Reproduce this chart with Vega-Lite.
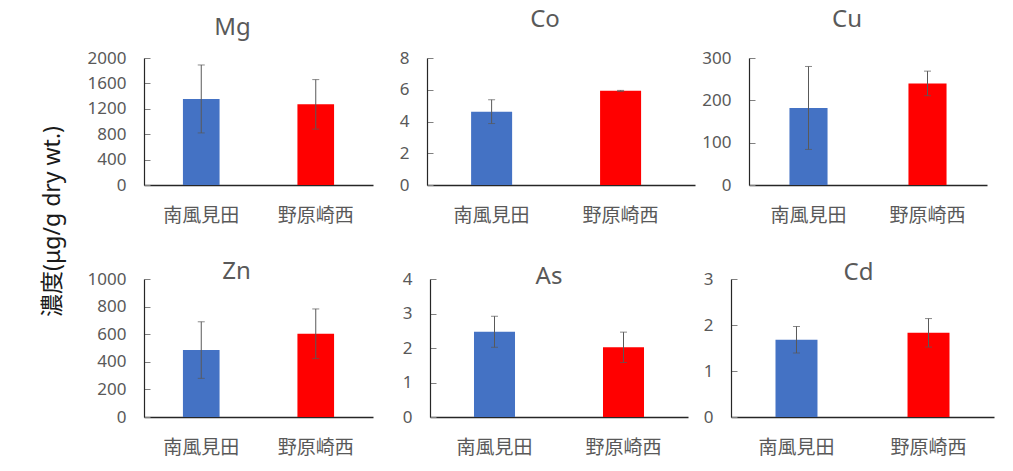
{
  "$schema": "https://vega.github.io/schema/vega-lite/v6.json",
  "autosize": {"type": "pad"},
  "padding": {"left": 42, "top": 8, "right": 5, "bottom": 12},
  "background": "white",
  "title": {"text": "濃度(μg/g dry wt.)", "orient": "left", "anchor": "middle", "frame": "bounds", "offset": -1, "baseline": "bottom", "dx": 11, "dy": 0, "fontSize": 23, "fontWeight": "normal", "color": "#1a1a1a", "font": "Noto Sans, Noto Sans CJK JP"},
  "datasets": {
    "d": [
      {"element": "Mg", "site": "南風見田", "mean": 1355, "err": 535},
      {"element": "Mg", "site": "野原崎西", "mean": 1270, "err": 390},
      {"element": "Co", "site": "南風見田", "mean": 4.62, "err": 0.75},
      {"element": "Co", "site": "野原崎西", "mean": 5.93, "err": 0.03},
      {"element": "Cu", "site": "南風見田", "mean": 182, "err": 98},
      {"element": "Cu", "site": "野原崎西", "mean": 240, "err": 29},
      {"element": "Zn", "site": "南風見田", "mean": 485, "err": 205},
      {"element": "Zn", "site": "野原崎西", "mean": 603, "err": 180},
      {"element": "As", "site": "南風見田", "mean": 2.47, "err": 0.45},
      {"element": "As", "site": "野原崎西", "mean": 2.02, "err": 0.44},
      {"element": "Cd", "site": "南風見田", "mean": 1.68, "err": 0.29},
      {"element": "Cd", "site": "野原崎西", "mean": 1.83, "err": 0.31}
    ]
  },
  "spacing": 35,
  "bounds": "full",
  "vconcat": [
    {
      "spacing": 54,
      "bounds": "flush",
      "hconcat": [
        {
          "width": 229, "height": 127,
          "data": {"name": "d"},
          "title": {"text": "Mg", "dx": -26, "dy": -5},
          "transform": [{"filter": "datum.element === 'Mg'"}],
          "encoding": {
            "x": {"field": "site", "type": "nominal", "sort": ["南風見田", "野原崎西"], "scale": {"paddingInner": 0.68, "paddingOuter": 0.34}, "axis": {"title": null}},
            "y": {"field": "mean", "type": "quantitative", "scale": {"domain": [0, 2000], "nice": false}, "axis": {"values": [0, 400, 800, 1200, 1600, 2000], "title": null}}
          },
          "layer": [
            {"mark": {"type": "bar"}, "encoding": {"color": {"field": "site", "type": "nominal", "scale": {"domain": ["南風見田", "野原崎西"], "range": ["#4472C4", "#FF0000"]}, "legend": null}}},
            {"mark": {"type": "errorbar", "color": "#595959", "ticks": {"size": 7}}, "encoding": {"yError": {"field": "err"}}}
          ]
        },
        {
          "width": 268, "height": 127,
          "data": {"name": "d"},
          "title": {"text": "Co", "dx": -16, "dy": -13},
          "transform": [{"filter": "datum.element === 'Co'"}],
          "encoding": {
            "x": {"field": "site", "type": "nominal", "sort": ["南風見田", "野原崎西"], "scale": {"paddingInner": 0.682, "paddingOuter": 0.38, "align": 0.45}, "axis": {"title": null}},
            "y": {"field": "mean", "type": "quantitative", "scale": {"domain": [0, 8], "nice": false}, "axis": {"values": [0, 2, 4, 6, 8], "title": null}}
          },
          "layer": [
            {"mark": {"type": "bar"}, "encoding": {"color": {"field": "site", "type": "nominal", "scale": {"domain": ["南風見田", "野原崎西"], "range": ["#4472C4", "#FF0000"]}, "legend": null}}},
            {"mark": {"type": "errorbar", "color": "#595959", "ticks": {"size": 7}}, "encoding": {"yError": {"field": "err"}}}
          ]
        },
        {
          "width": 238, "height": 127,
          "data": {"name": "d"},
          "title": {"text": "Cu", "dx": -21, "dy": -13},
          "transform": [{"filter": "datum.element === 'Cu'"}],
          "encoding": {
            "x": {"field": "site", "type": "nominal", "sort": ["南風見田", "野原崎西"], "scale": {"paddingInner": 0.68, "paddingOuter": 0.34}, "axis": {"title": null}},
            "y": {"field": "mean", "type": "quantitative", "scale": {"domain": [0, 300], "nice": false}, "axis": {"values": [0, 100, 200, 300], "title": null}}
          },
          "layer": [
            {"mark": {"type": "bar"}, "encoding": {"color": {"field": "site", "type": "nominal", "scale": {"domain": ["南風見田", "野原崎西"], "range": ["#4472C4", "#FF0000"]}, "legend": null}}},
            {"mark": {"type": "errorbar", "color": "#595959", "ticks": {"size": 7}}, "encoding": {"yError": {"field": "err"}}}
          ]
        }
      ]
    },
    {
      "spacing": 57,
      "bounds": "flush",
      "hconcat": [
        {
          "width": 229, "height": 138,
          "data": {"name": "d"},
          "title": {"text": "Zn", "dx": -22, "dy": 18},
          "transform": [{"filter": "datum.element === 'Zn'"}],
          "encoding": {
            "x": {"field": "site", "type": "nominal", "sort": ["南風見田", "野原崎西"], "scale": {"paddingInner": 0.68, "paddingOuter": 0.34}, "axis": {"title": null}},
            "y": {"field": "mean", "type": "quantitative", "scale": {"domain": [0, 1000], "nice": false}, "axis": {"values": [0, 200, 400, 600, 800, 1000], "title": null}}
          },
          "layer": [
            {"mark": {"type": "bar"}, "encoding": {"color": {"field": "site", "type": "nominal", "scale": {"domain": ["南風見田", "野原崎西"], "range": ["#4472C4", "#FF0000"]}, "legend": null}}},
            {"mark": {"type": "errorbar", "color": "#595959", "ticks": {"size": 7}}, "encoding": {"yError": {"field": "err"}}}
          ]
        },
        {
          "spacing": 43,
          "bounds": "flush",
          "hconcat": [
            {
              "width": 258, "height": 138,
              "data": {"name": "d"},
              "title": {"text": "As", "dx": -10, "dy": 23},
              "transform": [{"filter": "datum.element === 'As'"}],
              "encoding": {
                "x": {"field": "site", "type": "nominal", "sort": ["南風見田", "野原崎西"], "scale": {"paddingInner": 0.682, "paddingOuter": 0.341}, "axis": {"title": null}},
                "y": {"field": "mean", "type": "quantitative", "scale": {"domain": [0, 4], "nice": false}, "axis": {"values": [0, 1, 2, 3, 4], "title": null}}
              },
              "layer": [
                {"mark": {"type": "bar"}, "encoding": {"color": {"field": "site", "type": "nominal", "scale": {"domain": ["南風見田", "野原崎西"], "range": ["#4472C4", "#FF0000"]}, "legend": null}}},
                {"mark": {"type": "errorbar", "color": "#595959", "ticks": {"size": 7}}, "encoding": {"yError": {"field": "err"}}}
              ]
            },
            {
              "width": 263, "height": 138,
              "data": {"name": "d"},
              "title": {"text": "Cd", "dx": -4, "dy": 19},
              "transform": [{"filter": "datum.element === 'Cd'"}],
              "encoding": {
                "x": {"field": "site", "type": "nominal", "sort": ["南風見田", "野原崎西"], "scale": {"paddingInner": 0.682, "paddingOuter": 0.337}, "axis": {"title": null}},
                "y": {"field": "mean", "type": "quantitative", "scale": {"domain": [0, 3], "nice": false}, "axis": {"values": [0, 1, 2, 3], "title": null}}
              },
              "layer": [
                {"mark": {"type": "bar"}, "encoding": {"color": {"field": "site", "type": "nominal", "scale": {"domain": ["南風見田", "野原崎西"], "range": ["#4472C4", "#FF0000"]}, "legend": null}}},
                {"mark": {"type": "errorbar", "color": "#595959", "ticks": {"size": 7}}, "encoding": {"yError": {"field": "err"}}}
              ]
            }
          ]
        }
      ]
    }
  ],
  "resolve": {"scale": {"y": "independent", "x": "independent"}},
  "config": {
    "view": {"stroke": null},
    "font": "Noto Sans, Noto Sans CJK JP",
    "axis": {"grid": false, "labelColor": "#595959", "domainColor": "#262626", "tickColor": "#808080", "labelFont": "Noto Sans, Noto Sans CJK JP", "titleFont": "Noto Sans, Noto Sans CJK JP"},
    "axisY": {"labelFontSize": 17, "tickSize": -6, "labelPadding": 24, "domainWidth": 1.2, "format": "d"},
    "axisX": {"labelFontSize": 19, "ticks": false, "labelPadding": 30, "labelBaseline": "middle", "labelAngle": 0, "domainWidth": 1.5},
    "title": {"frame": "group", "anchor": "middle", "baseline": "alphabetic", "offset": 0, "fontSize": 24, "fontWeight": "normal", "color": "#595959", "font": "Noto Sans"}
  }
}
